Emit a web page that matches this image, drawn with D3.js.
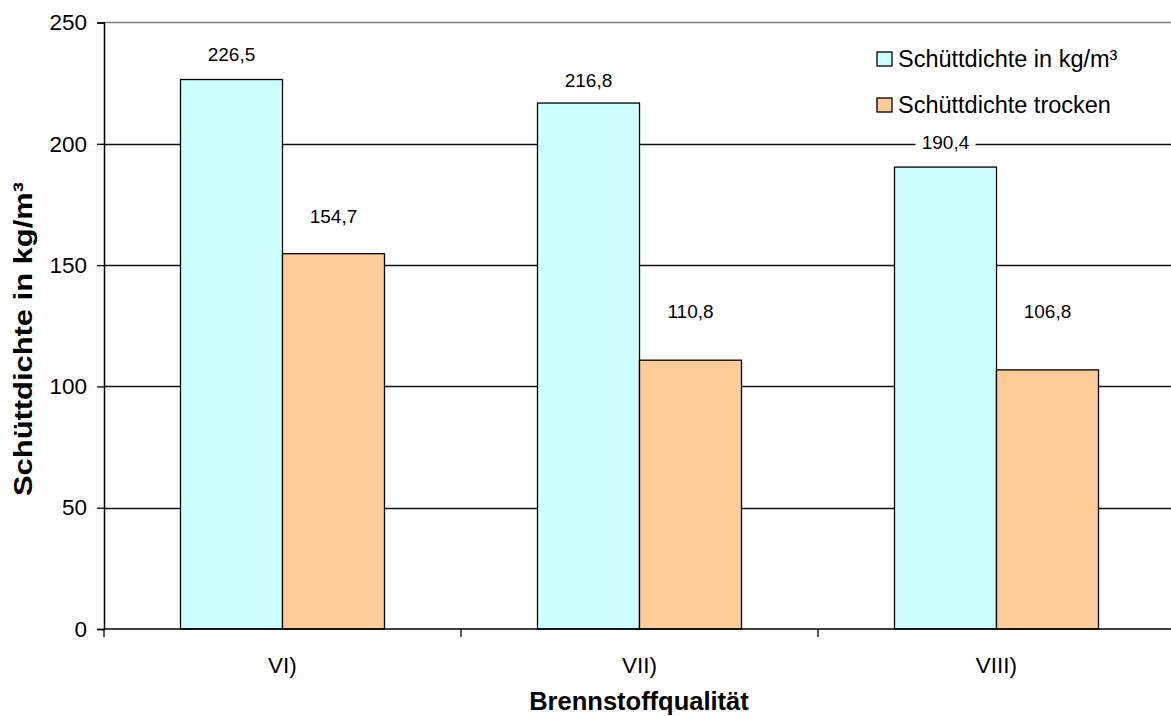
<!DOCTYPE html>
<html>
<head>
<meta charset="utf-8">
<script src="https://cdn.jsdelivr.net/npm/d3@7"></script>
<style>
  html, body { margin: 0; padding: 0; background: #fff; }
  svg { display: block; font-family: Arial, "Liberation Sans", sans-serif; }
</style>
</head>
<body>
<svg id="chart" width="1171" height="716"></svg>
<script>
// Fuel qualities on the category axis
const categories = ["VI)", "VII)", "VIII)"];
// Bulk density values (kg/m³)
const seriesNames = ["Schüttdichte in kg/m³", "Schüttdichte trocken"];
const bulkDensity = [226.5, 216.8, 190.4];
const bulkDensityDry = [154.7, 110.8, 106.8];
const yTicks = [0, 50, 100, 150, 200, 250];

// Vertical distance (px) of each value label above its bar
const labelLiftWet = [19, 16, 18];
const labelLiftDry = [31, 42, 52];

const colors = ["#CCFFFF", "#FFCC99"];

const svg = d3.select("#chart");
const plot = { left: 104, right: 1175, top: 22.5, bottom: 629 };

const y = d3.scaleLinear().domain([0, 250]).range([plot.bottom, plot.top]);
const x = d3.scaleBand().domain(categories).range([plot.left, plot.right]).padding(0);
const xs = d3.scaleBand().domain([0, 1]).range([0, x.bandwidth()])
  .paddingInner(0).paddingOuter(0.75);

// Plot area top border
svg.append("line")
  .attr("x1", plot.left).attr("x2", plot.right)
  .attr("y1", y(250)).attr("y2", y(250))
  .attr("stroke", "#808080").attr("stroke-width", 1.5);

// Horizontal gridlines
svg.append("g").selectAll("line")
  .data(yTicks.filter(t => t > 0 && t < 250))
  .join("line")
  .attr("x1", plot.left).attr("x2", plot.right)
  .attr("y1", d => Math.round(y(d)) + 0.5).attr("y2", d => Math.round(y(d)) + 0.5)
  .attr("stroke", "#111").attr("stroke-width", 1.3);

// Bars
const rows = categories.map((c, i) => ({ cat: c, vals: [bulkDensity[i], bulkDensityDry[i]], lifts: [labelLiftWet[i], labelLiftDry[i]] }));
const groups = svg.append("g").selectAll("g")
  .data(rows).join("g")
  .attr("transform", d => `translate(${x(d.cat)},0)`);

groups.selectAll("rect")
  .data(d => d.vals.map((v, k) => ({ v, k })))
  .join("rect")
  .attr("x", d => xs(d.k))
  .attr("y", d => y(d.v))
  .attr("width", xs.bandwidth())
  .attr("height", d => y(0) - y(d.v))
  .attr("fill", d => colors[d.k])
  .attr("stroke", "#000").attr("stroke-width", 1.3);

// Value labels with a white backing
const fmt = v => d3.format(".1f")(v).replace(".", ",");
const labels = groups.selectAll("g.lbl")
  .data(d => d.vals.map((v, k) => ({ v, k, lift: d.lifts[k] })))
  .join("g").attr("class", "lbl")
  .attr("transform", d => `translate(${xs(d.k) + xs.bandwidth() / 2},${y(d.v) - d.lift})`);
labels.append("rect")
  .attr("x", -30).attr("y", -18).attr("width", 60).attr("height", 23)
  .attr("fill", "#fff");
labels.append("text")
  .attr("text-anchor", "middle")
  .attr("font-size", 19)
  .attr("fill", "#000")
  .text(d => fmt(d.v));

// Y axis
const yAxis = svg.append("g")
  .attr("transform", `translate(${plot.left},0)`)
  .call(d3.axisLeft(y).tickValues(yTicks).tickSize(7).tickPadding(10));
yAxis.select(".domain").attr("stroke", "#000").attr("stroke-width", 1.5);
yAxis.selectAll(".tick line").attr("stroke", "#000").attr("stroke-width", 1.3);
yAxis.selectAll(".tick text").attr("font-size", 22.5).attr("fill", "#000")
  .attr("font-family", "Arial, 'Liberation Sans', sans-serif");

// X axis with ticks between categories
const xAxisG = svg.append("g").attr("transform", `translate(0,${plot.bottom})`);
xAxisG.append("line")
  .attr("x1", plot.left).attr("x2", plot.right)
  .attr("stroke", "#000").attr("stroke-width", 1.5);
xAxisG.selectAll("line.tk")
  .data(categories.map(c => x(c)).concat([plot.right]))
  .join("line").attr("class", "tk")
  .attr("x1", d => d).attr("x2", d => d)
  .attr("y1", 0).attr("y2", 8)
  .attr("stroke", "#000").attr("stroke-width", 1.3);
xAxisG.selectAll("text")
  .data(categories).join("text")
  .attr("x", d => x(d) + x.bandwidth() / 2)
  .attr("y", 44)
  .attr("text-anchor", "middle")
  .attr("font-size", 22.5)
  .text(d => d);

// Axis titles
svg.append("text")
  .attr("x", 639).attr("y", 710)
  .attr("text-anchor", "middle")
  .attr("font-size", 25.5).attr("font-weight", "bold")
  .text("Brennstoffqualität");
svg.append("text")
  .attr("transform", "translate(32,339) rotate(-90)")
  .attr("text-anchor", "middle")
  .attr("font-size", 25).attr("font-weight", "bold")
  .attr("textLength", 314).attr("lengthAdjust", "spacingAndGlyphs")
  .text("Schüttdichte in kg/m³");

// Legend
const legend = svg.append("g").attr("transform", "translate(877,52)");
const items = legend.selectAll("g").data(seriesNames).join("g")
  .attr("transform", (d, i) => `translate(0,${i * 46})`);
items.append("rect")
  .attr("width", 15).attr("height", 14)
  .attr("fill", (d, i) => colors[i])
  .attr("stroke", "#000").attr("stroke-width", 1.3);
items.append("text")
  .attr("x", 21).attr("y", 14.5)
  .attr("font-size", 23.5)
  .text(d => d);
</script>
</body>
</html>
